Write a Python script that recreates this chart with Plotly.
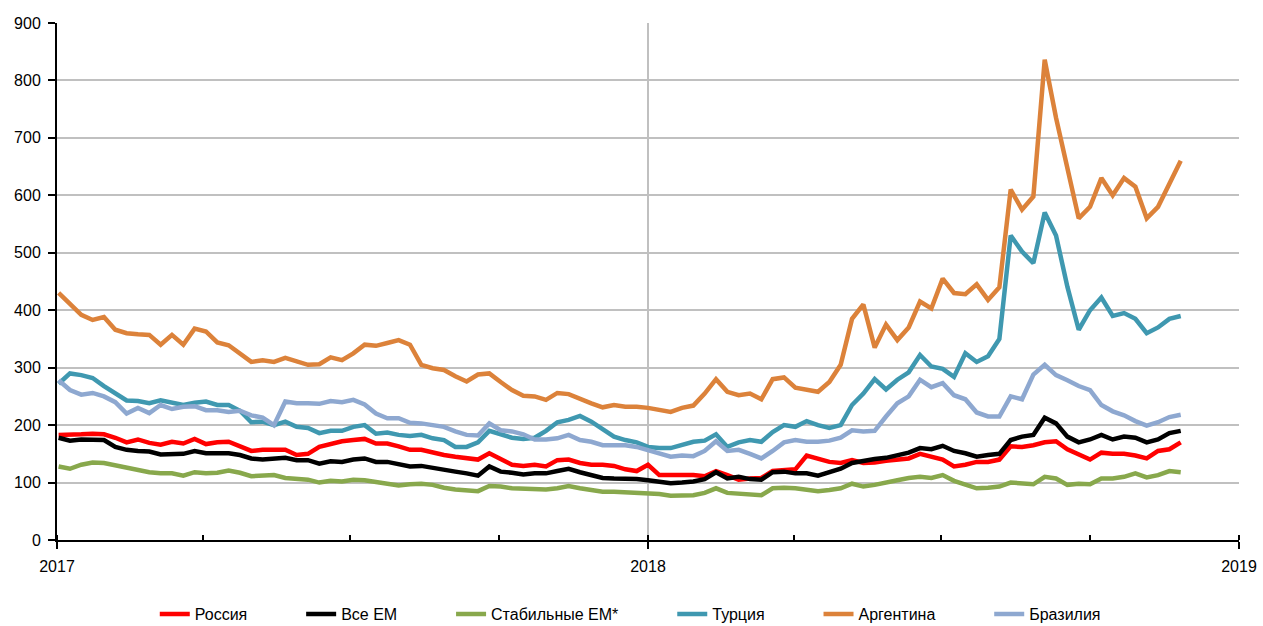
import pandas as pd
import plotly.graph_objects as go

# weekly observation dates (Mondays), Jan 2017 - Nov 2018
dates = pd.date_range("2017-01-02", periods=100, freq="7D")

russia = [183, 183, 184, 185, 184, 178, 170, 175, 169, 166,
          171, 168, 176, 167, 170, 171, 163, 155, 157, 157,
          157, 148, 150, 162, 168, 172, 174, 176, 168, 168,
          163, 157, 157, 152, 148, 145, 142, 140, 151, 140,
          131, 129, 131, 128, 139, 140, 134, 131, 131, 129,
          123, 120, 131, 113, 113, 113, 113, 111, 120, 113,
          105, 107, 108, 120, 122, 123, 147, 142, 136, 134,
          139, 134, 135, 138, 140, 142, 150, 145, 140, 128,
          131, 136, 136, 140, 163, 162, 165, 170, 172, 158,
          150, 140, 152, 150, 150, 147, 142, 155, 158, 170]

all_em = [178, 173, 175, 174, 174, 162, 157, 155, 154, 149,
          150, 150, 155, 151, 151, 151, 148, 142, 140, 141,
          143, 139, 139, 133, 137, 136, 140, 142, 136, 136,
          131, 128, 129, 125, 122, 119, 116, 112, 128, 119,
          117, 114, 116, 116, 120, 124, 118, 113, 108, 107,
          107, 106, 104, 101, 99, 100, 102, 106, 118, 107,
          110, 106, 105, 118, 119, 116, 116, 112, 118, 124,
          134, 138, 141, 143, 148, 152, 160, 158, 164, 155,
          151, 145, 148, 150, 174, 180, 183, 213, 203, 180,
          170, 175, 183, 175, 180, 178, 170, 175, 186, 190]

stable_em = [128, 124, 131, 135, 134, 130, 126, 122, 118, 116,
             116, 112, 118, 116, 117, 121, 117, 111, 112, 113,
             108, 107, 105, 100, 103, 102, 105, 104, 101, 99,
             95, 97, 98, 96, 91, 88, 87, 85, 94, 93,
             90, 89, 89, 88, 90, 94, 90, 87, 84, 84,
             83, 81, 81, 80, 77, 77, 78, 82, 90, 82,
             81, 80, 78, 90, 91, 90, 88, 85, 87, 90,
             98, 93, 96, 101, 104, 108, 110, 108, 113, 103,
             96, 90, 91, 93, 100, 99, 97, 110, 107, 96,
             98, 97, 107, 107, 110, 116, 109, 113, 120, 118]

turkey = [272, 290, 287, 282, 268, 256, 243, 242, 238, 243,
          238, 235, 239, 241, 235, 235, 225, 205, 206, 200,
          206, 197, 195, 186, 190, 190, 197, 200, 185, 187,
          183, 181, 183, 177, 174, 162, 162, 170, 190, 184,
          178, 176, 178, 190, 205, 209, 216, 206, 193, 180,
          174, 170, 162, 160, 160, 165, 171, 173, 184, 162,
          170, 174, 171, 188, 200, 197, 207, 200, 195, 200,
          235, 255, 280, 262, 279, 292, 322, 302, 298, 284,
          325, 310, 320, 350, 530, 502, 482, 570, 530, 441,
          366, 400, 422, 390, 395, 385, 360, 370, 385, 390]

argentina = [430, 412, 392, 383, 388, 366, 360, 358, 357, 340,
             357, 340, 368, 363, 344, 339, 325, 310, 313, 310,
             317, 311, 305, 306, 318, 313, 325, 340, 338, 343,
             348, 340, 305, 299, 296, 285, 276, 288, 290, 275,
             261, 251, 250, 244, 256, 254, 245, 238, 231, 235,
             232, 232, 230, 226, 223, 230, 234, 255, 280, 258,
             252, 255, 245, 280, 283, 265, 261, 258, 275, 305,
             385, 410, 335, 375, 348, 370, 415, 403, 455, 430,
             428, 445, 418, 440, 610, 575, 598, 836, 735, 644,
             560, 580, 630, 600, 630, 615, 560, 580, 620, 660]

brazil = [278, 261, 253, 256, 250, 240, 220, 230, 221, 235,
          228, 232, 233, 226, 226, 223, 225, 217, 213, 200,
          241, 238, 238, 237, 242, 240, 244, 236, 220, 212,
          212, 204, 203, 200, 197, 189, 183, 182, 203, 191,
          189, 184, 175, 175, 177, 183, 174, 171, 165, 165,
          165, 162, 156, 150, 145, 147, 146, 155, 172, 155,
          157, 150, 142, 155, 170, 174, 171, 171, 173, 178,
          191, 189, 190, 215, 238, 250, 279, 266, 273, 252,
          245, 222, 215, 215, 250, 245, 288, 305, 287, 278,
          268, 261, 235, 224, 217, 207, 199, 205, 214, 218]

names = ["Россия", "Все EM", "Стабильные EM*", "Турция", "Аргентина", "Бразилия"]
series = [russia, all_em, stable_em, turkey, argentina, brazil]
colors = ["#ff0000", "#000000", "#88a84c", "#3f98b0", "#dc823a", "#8ea8d0"]

pad = "\u00a0" * 11
fig = go.Figure()
for i, (name, vals, col) in enumerate(zip(names, series, colors)):
    label = name + (pad if i < len(names) - 1 else "")
    fig.add_trace(go.Scatter(x=dates, y=vals, name=label, mode="lines",
                             line=dict(color=col, width=4.5)))

font_family = "Arial, 'Liberation Sans', sans-serif"
fig.update_layout(
    width=1263, height=626,
    margin=dict(l=57, r=24, t=23, b=86),
    paper_bgcolor="white", plot_bgcolor="white",
    font=dict(family=font_family, size=16, color="black"),
    showlegend=True,
    legend=dict(orientation="h", x=0.485, xanchor="center",
                yref="container", y=1 - 614 / 626, yanchor="middle",
                font=dict(size=16), itemwidth=30, tracegroupgap=0),
)
fig.update_xaxes(
    type="date", range=["2017-01-01", "2019-01-01"],
    tick0="2017-01-01", dtick="M12", tickformat="%Y",
    showgrid=True, gridcolor="#c0c0c0", gridwidth=2,
    showline=True, linecolor="black", linewidth=2,
    ticks="outside", ticklen=7, tickwidth=2, tickcolor="black",
    ticklabelstandoff=4, automargin=False,
    minor=dict(dtick="M3", tick0="2017-01-01", ticks="inside", ticklen=5,
               tickwidth=1.5, tickcolor="black", showgrid=False),
    zeroline=False,
)
fig.update_yaxes(
    range=[0, 900], dtick=100, tick0=0,
    showgrid=True, gridcolor="#c0c0c0", gridwidth=2,
    showline=True, linecolor="black", linewidth=2,
    ticks="outside", ticklen=7, tickwidth=2, tickcolor="black",
    ticklabelstandoff=4, automargin=False,
    zeroline=False,
)

fig.write_html("out.html", config={"displayModeBar": False},
               post_script="document.body.style.margin='0px';")
